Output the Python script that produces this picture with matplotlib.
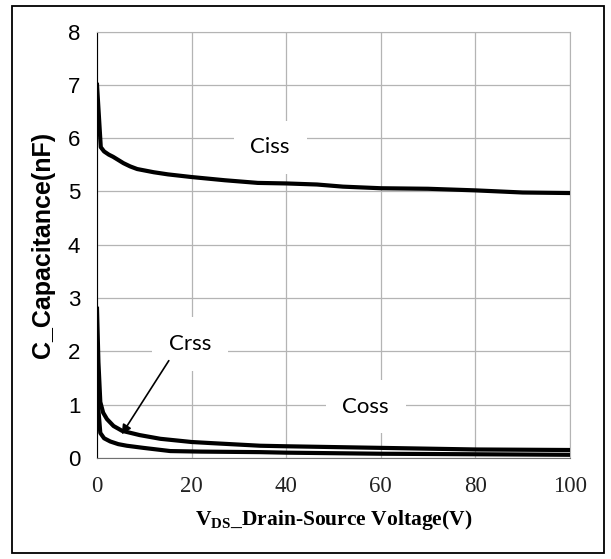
import matplotlib
matplotlib.use("Agg")
import matplotlib.pyplot as plt
from matplotlib.patches import Rectangle

# capacitance curves (V in volts, C in nF)
v_ciss = [0, 0.8, 1.5, 2.5, 3.4, 4.5, 5.6, 7, 8.5, 12, 15, 20, 27, 34, 40, 46.5, 52, 60, 70, 80, 90, 100]
c_ciss = [7.0, 5.83, 5.75, 5.69, 5.65, 5.59, 5.53, 5.47, 5.42, 5.36, 5.32, 5.27, 5.21, 5.16, 5.15, 5.13, 5.09, 5.06, 5.05, 5.02, 4.98, 4.97]

v_coss = [0, 0.3, 0.7, 1.3, 2.1, 3.5, 5.3, 9, 13.4, 20, 24, 34.5, 40, 60, 80, 100]
c_coss = [2.8, 1.8, 1.05, 0.85, 0.73, 0.6, 0.51, 0.43, 0.36, 0.3, 0.28, 0.23, 0.22, 0.19, 0.16, 0.15]

v_crss = [0, 0.3, 0.7, 1.5, 2.8, 4.5, 6.3, 9.8, 15.5, 22, 34.5, 40, 60, 80, 100]
c_crss = [1.55, 0.9, 0.47, 0.37, 0.31, 0.26, 0.23, 0.19, 0.13, 0.12, 0.11, 0.10, 0.08, 0.07, 0.06]

x_ticks = [0, 20, 40, 60, 80, 100]
y_ticks = [0, 1, 2, 3, 4, 5, 6, 7, 8]

plt.rcParams["mathtext.fontset"] = "custom"
plt.rcParams["mathtext.rm"] = "Liberation Serif:bold"

W, H = 611, 559
fig = plt.figure(figsize=(W / 100, H / 100), dpi=100)
ax = fig.add_axes([97 / W, 1 - 458 / H, (570 - 97) / W, (458 - 31.5) / H])

# outer frame around the whole figure
fig.patches.append(Rectangle((12 / W, 6 / H), (604 - 12) / W, (553 - 6) / H,
                             transform=fig.transFigure, fill=False, ec="black", lw=1.3))

for v, c in [(v_ciss, c_ciss), (v_coss, c_coss), (v_crss, c_crss)]:
    ax.plot(v, c, color="black", lw=3.0, solid_joinstyle="round", zorder=3)

ax.set_xlim(0, 100)
ax.set_ylim(0, 8)
ax.set_xticks(x_ticks)
ax.set_yticks(y_ticks)
ax.grid(True, color="#b4b4b4", lw=0.9)
ax.set_axisbelow(True)
ax.tick_params(length=0)
ax.tick_params(axis="y", pad=12)
ax.tick_params(axis="x", pad=13)
for lab in ax.get_yticklabels():
    lab.set_fontfamily("Liberation Sans")
    lab.set_fontsize(16)
for lab in ax.get_xticklabels():
    lab.set_fontfamily("Liberation Serif")
    lab.set_fontsize(16.5)
    lab.set_color("#222222")

ax.spines["left"].set_color("black")
ax.spines["bottom"].set_color("#707070")
for s in ("top", "right"):
    ax.spines[s].set_color("#b4b4b4")

ax.set_ylabel("C_Capacitance(nF)", fontfamily="Liberation Sans", fontweight="bold",
              fontsize=18, labelpad=9)
ax.set_xlabel(r"V$_{\rm DS}$_Drain-Source Voltage(V)", fontfamily="Liberation Serif",
              fontweight="bold", fontsize=15.5, labelpad=8)

box = dict(facecolor="white", edgecolor="none", pad=12)
ax.text(36.6, 5.83, "Ciss", fontfamily="Lato", fontsize=16, ha="center", va="center",
        bbox=box, zorder=4)
ax.text(19.7, 2.14, "Crss", fontfamily="Lato", fontsize=16, ha="center", va="center",
        bbox=box, zorder=4)
ax.text(56.8, 0.96, "Coss", fontfamily="Lato", fontsize=16, ha="center", va="center",
        bbox=box, zorder=4)
ax.annotate("", xy=(4.9, 0.40), xytext=(15.5, 1.87),
            arrowprops=dict(arrowstyle="-|>", color="black", lw=1.2, mutation_scale=14),
            zorder=5)

fig.savefig("out.png", dpi=100)
